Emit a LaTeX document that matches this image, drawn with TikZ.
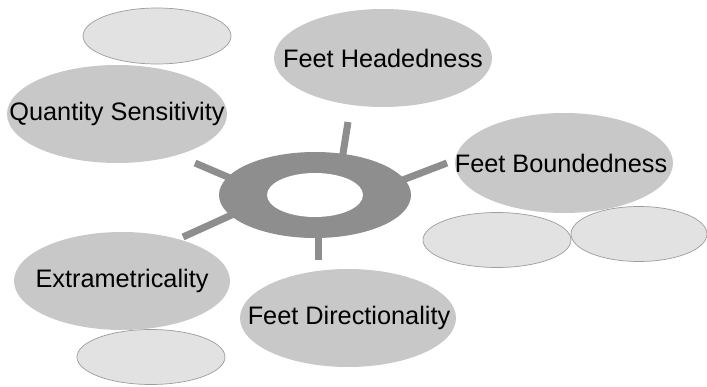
\documentclass[tikz,border=0pt]{standalone}
\usepackage{fontspec}
\setmainfont{Liberation Sans}
\usetikzlibrary{shapes.geometric,backgrounds}
\definecolor{mainfill}{HTML}{C8C8C8}
\definecolor{lightfill}{HTML}{E2E2E2}
\definecolor{lightline}{HTML}{9C9C9C}
\definecolor{ringgray}{HTML}{8E8E8E}
\begin{document}
\begin{tikzpicture}[x=1pt,y=-1pt,
  topic/.style={ellipse, fill=mainfill, inner sep=0pt},
  topictext/.style={inner sep=0pt, font=\fontsize{25.3}{30}\selectfont, text=black},
  blank/.style={ellipse, fill=lightfill, draw=lightline, line width=0.7pt, inner sep=0pt},
  spoke/.style={draw=ringgray, line width=7pt, line cap=butt}]
\useasboundingbox (0,0) rectangle (707,387);
% blank ellipses
\node[blank, minimum width=148pt, minimum height=56pt] (b1) at (157,36) {};
\node[blank, minimum width=148pt, minimum height=55pt] (b2) at (497,240) {};
\node[blank, minimum width=136pt, minimum height=55pt] (b3) at (639,234) {};
\node[blank, minimum width=148pt, minimum height=55pt] (b4) at (151,357) {};
% topic ellipses
\node[topic, minimum width=220pt, minimum height=98pt] (qs) at (117,114) {};
\node[topic, minimum width=218pt, minimum height=98pt] (fh) at (383,58) {};
\node[topic, minimum width=218pt, minimum height=100pt] (fb) at (564,163) {};
\node[topic, minimum width=216pt, minimum height=98pt] (ex) at (122,281) {};
\node[topic, minimum width=216pt, minimum height=98pt] (fd) at (348,318) {};
\node[topictext] (qst) at (117,114) {Quantity Sensitivity};
\node[topictext] (fht) at (383,58) {Feet Headedness};
\node[topictext] (fbt) at (561,163) {Feet Boundedness};
\node[topictext] (ext) at (122,281) {Extrametricality};
\node[topictext] (fdt) at (349,318) {Feet Directionality};
% hub
\node[ellipse, fill=ringgray, inner sep=0pt, minimum width=192pt, minimum height=86pt] (ring) at (315,195) {};
\node[ellipse, fill=white, inner sep=0pt, minimum width=96pt, minimum height=44pt] (hole) at (315,195) {};
% spoke ends
\coordinate (t0) at (342,160); \coordinate (t1) at (348,122);
\coordinate (r0) at (400,181); \coordinate (r1) at (447,163);
\coordinate (l0) at (237,181); \coordinate (l1) at (195,163);
\coordinate (d0) at (237,212.5); \coordinate (d1) at (183,237);
\coordinate (u0) at (318,230); \coordinate (u1) at (318,260);
\begin{pgfonlayer}{background}
\draw[spoke] (t0) -- (t1);
\draw[spoke] (r0) -- (r1);
\draw[spoke] (l0) -- (l1);
\draw[spoke] (d0) -- (d1);
\draw[spoke] (u0) -- (u1);
\end{pgfonlayer}
\end{tikzpicture}
\end{document}
